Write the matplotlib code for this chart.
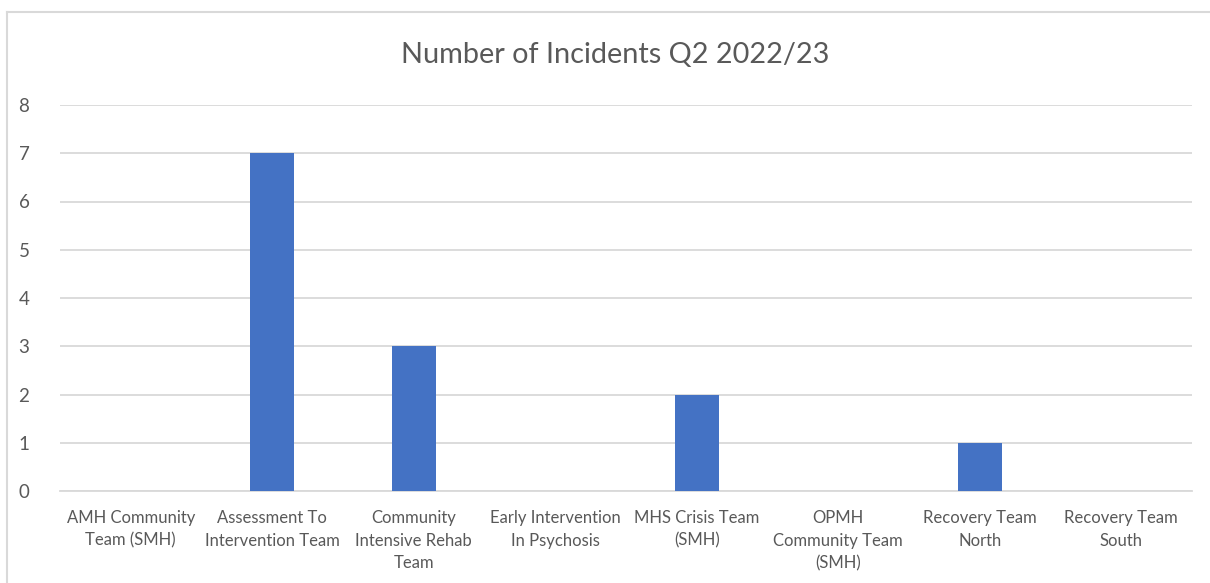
import matplotlib
matplotlib.use("Agg")
import matplotlib.pyplot as plt
from matplotlib.lines import Line2D

categories = [
    "AMH Community\nTeam (SMH)",
    "Assessment To\nIntervention Team",
    "Community\nIntensive Rehab\nTeam",
    "Early Intervention\nIn Psychosis",
    "MHS Crisis Team\n(SMH)",
    "OPMH\nCommunity Team\n(SMH)",
    "Recovery Team\nNorth",
    "Recovery Team\nSouth",
]
incidents = [0, 7, 3, 0, 2, 0, 1, 0]
y_ticks = [0, 1, 2, 3, 4, 5, 6, 7, 8]
title = "Number of Incidents Q2 2022/23"

plt.rcParams["font.family"] = ["Lato", "DejaVu Sans"]
text_color = "#595959"
grid_color = "#D9D9D9"
bar_color = "#4472C4"

fig = plt.figure(figsize=(12.10, 5.83), dpi=100)
ax = fig.add_axes([60 / 1210, 1 - 491 / 583, 1132 / 1210, 386 / 583])

x = list(range(len(categories)))
ax.bar(x, incidents, width=0.31, color=bar_color, zorder=3)

ax.set_xlim(-0.5, len(categories) - 0.5)
ax.set_ylim(0, 8)
ax.set_yticks(y_ticks)
ax.set_yticklabels([str(v) for v in y_ticks], fontsize=13.5, color=text_color)
ax.set_xticks(x)
ax.set_xticklabels(categories, fontsize=12, color=text_color, linespacing=1.48)
ax.tick_params(axis="both", length=0)
ax.tick_params(axis="y", pad=22)
ax.tick_params(axis="x", pad=14)
ax.yaxis.grid(True, color=grid_color, linewidth=1.3, zorder=0)
for side in ["top", "right", "left"]:
    ax.spines[side].set_visible(False)
ax.spines["bottom"].set_color(grid_color)
ax.spines["bottom"].set_linewidth(1.3)

fig.text(615 / 1210, 1 - 55 / 583, title, ha="center", va="center",
         fontsize=20.8, color=text_color)

# chart frame (top and left edges)
fig.add_artist(Line2D([7 / 1210, 7 / 1210], [0, 1 - 12 / 583],
                      transform=fig.transFigure, color="#D9D9D9", linewidth=1.5))
fig.add_artist(Line2D([7 / 1210, 1], [1 - 12 / 583, 1 - 12 / 583],
                      transform=fig.transFigure, color="#D9D9D9", linewidth=1.5))

fig.savefig("out.png", dpi=100, facecolor="white")
